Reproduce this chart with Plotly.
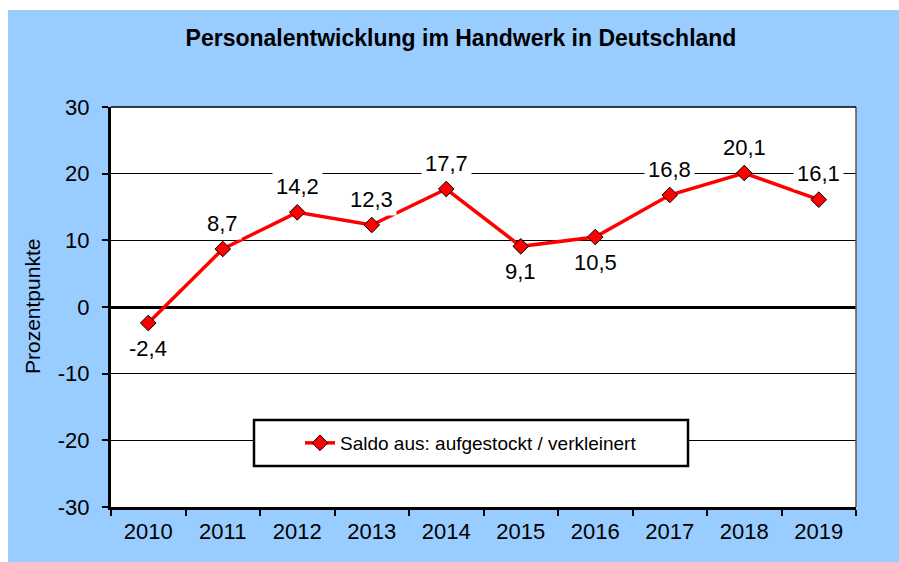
import plotly.graph_objects as go

# ---- data ----
years = ["2010", "2011", "2012", "2013", "2014", "2015", "2016", "2017", "2018", "2019"]
saldo = [-2.4, 8.7, 14.2, 12.3, 17.7, 9.1, 10.5, 16.8, 20.1, 16.1]
label_side = ["below", "above", "above", "above", "above", "below", "below", "above", "above", "above"]
y_ticks = [-30, -20, -10, 0, 10, 20, 30]

series_name = "Saldo aus: aufgestockt / verkleinert"
title_text = "<b>Personalentwicklung im Handwerk in Deutschland</b>"
y_title = "Prozentpunkte"

FONT = "Liberation Sans, Arial, sans-serif"
BLUE = "#99CCFF"
W, H = 899, 562
ML, MR, MT, MB = 111, 43, 107, 55
PW, PH = W - ML - MR, H - MT - MB


def px_x(p):
    return (p - ML) / PW


def px_y(p):  # p measured from top
    return (H - p - MB) / PH


fig = go.Figure()
fig.add_trace(go.Scatter(
    x=years, y=saldo, mode="lines+markers", name=series_name,
    line=dict(color="#FF0000", width=3.5),
    marker=dict(symbol="diamond", size=12, color="#FF0000",
                line=dict(color="black", width=1)),
    showlegend=True,
))

annotations = []
for i, (v, side) in enumerate(zip(saldo, label_side)):
    annotations.append(dict(
        x=i, y=v, xref="x", yref="y", showarrow=False,
        text=f"{v:.1f}".replace(".", ","),
        font=dict(family=FONT, size=22, color="black"),
        bgcolor="white", borderpad=3,
        yshift=26 if side == "above" else -25,
    ))
annotations.append(dict(
    x=px_x(32), y=px_y(307), xref="paper", yref="paper", showarrow=False,
    xanchor="center", yanchor="middle",
    text=y_title, textangle=-90,
    font=dict(family=FONT, size=21, color="black"),
))

shapes = [
    # white page strips outside the blue chart area
    dict(type="rect", xref="paper", yref="paper", layer="below",
         x0=px_x(0), x1=px_x(8), y0=px_y(H), y1=px_y(0),
         fillcolor="white", line=dict(width=0)),
    dict(type="rect", xref="paper", yref="paper", layer="below",
         x0=px_x(0), x1=px_x(W), y0=px_y(10), y1=px_y(0),
         fillcolor="white", line=dict(width=0)),
    # right border and top border of plot area
    dict(type="line", xref="paper", yref="paper", x0=1, x1=1, y0=0, y1=1,
         line=dict(color="#555555", width=1.5)),
    dict(type="line", xref="paper", yref="paper", x0=0, x1=1, y0=1, y1=1,
         line=dict(color="black", width=1.5)),
    # legend box
    dict(type="rect", xref="paper", yref="paper", layer="above",
         x0=px_x(254), x1=px_x(688), y0=px_y(466), y1=px_y(420),
         fillcolor="white", line=dict(color="black", width=2.5)),
]

fig.update_layout(
    width=W, height=H,
    margin=dict(l=ML, r=MR, t=MT, b=MB, pad=0),
    paper_bgcolor=BLUE, plot_bgcolor="white",
    font=dict(family=FONT, size=22, color="black"),
    title=dict(text=title_text, x=461 / W, y=1 - 38 / H, xref="container", yref="container",
               xanchor="center", yanchor="middle",
               font=dict(family=FONT, size=23, color="black")),
    xaxis=dict(type="category", categoryorder="array", categoryarray=years,
               range=[-0.5, len(years) - 0.5], autorange=False,
               tickson="boundaries", ticks="outside", ticklen=6,
               tickwidth=2, tickcolor="black", showline=True, linecolor="black",
               linewidth=3, showgrid=False, tickfont=dict(size=22), tickangle=0,
               ticklabelstandoff=3),
    yaxis=dict(range=[-30, 30], autorange=False, tickvals=y_ticks,
               ticktext=[str(t) for t in y_ticks], ticks="outside", ticklen=6,
               tickwidth=2, tickcolor="black", showline=True, linecolor="black",
               linewidth=3, showgrid=True, gridcolor="black", gridwidth=1,
               zeroline=True, zerolinecolor="black", zerolinewidth=3,
               tickfont=dict(size=22), ticklabelstandoff=8),
    legend=dict(x=px_x(471), y=px_y(443), xanchor="center", yanchor="middle",
                bgcolor="rgba(0,0,0,0)", borderwidth=0, itemwidth=30,
                font=dict(family=FONT, size=19, color="black")),
    annotations=annotations,
    shapes=shapes,
)

fig.write_html("out.html", config={"displayModeBar": False},
               post_script="document.body.style.margin='0';")
